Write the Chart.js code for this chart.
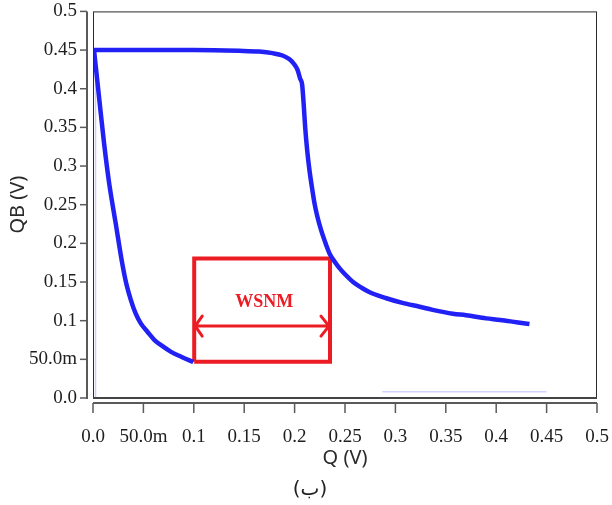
<!DOCTYPE html>
<html>
<head>
<meta charset="utf-8">
<script src="https://cdn.jsdelivr.net/npm/chart.js@4.4.1/dist/chart.umd.min.js"></script>
<style>
  body { margin: 0; background: #fff; }
  #wrap { position: relative; width: 612px; height: 505px; }
  #caption {
    position: absolute; left: 310px; top: 476px;
    transform: translateX(-50%);
    font: 20px "DejaVu Sans", sans-serif; color: #222;
  }
</style>
</head>
<body>
<div id="wrap">
  <canvas id="wsnmChart" width="612" height="505"></canvas>
  <div id="caption">(ب)</div>
</div>
<script>
// butterfly curves of the cell: QB against Q
const leftQ  = [0.001, 0.006, 0.011, 0.016, 0.0225, 0.029, 0.033, 0.0375, 0.0424, 0.0474, 0.054, 0.061, 0.069, 0.077, 0.088, 0.0995];
const leftQB = [0.450, 0.389, 0.329, 0.278, 0.226, 0.174, 0.148, 0.127, 0.109, 0.0965, 0.0857, 0.075, 0.067, 0.060, 0.053, 0.0465];

const rightQ  = [0.0, 0.05, 0.10, 0.145, 0.165, 0.178, 0.188, 0.195, 0.200, 0.203, 0.2055, 0.2075, 0.209, 0.2105, 0.2125, 0.2147, 0.2175, 0.2197, 0.2225, 0.2263, 0.2313, 0.2346, 0.241, 0.2445, 0.250, 0.258, 0.266, 0.274, 0.291, 0.307, 0.324, 0.337, 0.357, 0.370, 0.390, 0.404, 0.420, 0.433];
const rightQB = [0.450, 0.450, 0.450, 0.449, 0.448, 0.446, 0.443, 0.438, 0.431, 0.424, 0.413, 0.405, 0.380, 0.350, 0.320, 0.295, 0.270, 0.252, 0.235, 0.217, 0.198, 0.187, 0.174, 0.168, 0.160, 0.150, 0.143, 0.137, 0.129, 0.123, 0.118, 0.114, 0.109, 0.107, 0.103, 0.101, 0.098, 0.0956];

// faint traces left by the simulator near the axes
const traceVQ = [0.0025, 0.0025];
const traceVQB = [0.45, 0.0];
const traceHQ = [0.287, 0.45];
const traceHQB = [0.008, 0.008];

// WSNM window: corners and the double arrow across it
const boxQ  = [0.1004, 0.1004, 0.2351, 0.2351, 0.1004];
const boxQB = [0.047, 0.1805, 0.1805, 0.047, 0.047];
const arrowQ = [0.1014, 0.2341];
const arrowQB = 0.093;
const wsnmLabel = 'WSNM';
const wsnmLabelAt = [0.170, 0.124];

const tickValues = [0, 0.05, 0.1, 0.15, 0.2, 0.25, 0.3, 0.35, 0.4, 0.45, 0.5];
const tickLabels = ['0.0', '50.0m', '0.1', '0.15', '0.2', '0.25', '0.3', '0.35', '0.4', '0.45', '0.5'];

const pts = (xs, ys) => xs.map((v, i) => ({ x: v, y: Array.isArray(ys) ? ys[i] : ys }));

const BLUE = 'rgb(33,33,245)';
const RED = '#ec1c24';
const serif = '"Liberation Serif", "Times New Roman", serif';
const sans = '"Noto Sans", sans-serif';

const wsnmPlugin = {
  id: 'wsnmPlugin',
  afterDatasetsDraw(chart) {
    const { ctx, scales: { x, y } } = chart;
    const ay = y.getPixelForValue(arrowQB);
    const x1 = x.getPixelForValue(arrowQ[0]);
    const x2 = x.getPixelForValue(arrowQ[1]);
    ctx.save();
    ctx.strokeStyle = RED;
    ctx.lineWidth = 3;
    ctx.lineCap = 'round';
    ctx.beginPath();
    ctx.moveTo(x1, ay); ctx.lineTo(x2, ay);
    ctx.moveTo(x1 + 7, ay - 10); ctx.lineTo(x1, ay); ctx.lineTo(x1 + 7, ay + 10);
    ctx.moveTo(x2 - 8, ay - 10); ctx.lineTo(x2, ay); ctx.lineTo(x2 - 8, ay + 10);
    ctx.stroke();
    ctx.fillStyle = RED;
    ctx.font = 'bold 18px ' + serif;
    ctx.textAlign = 'center';
    ctx.textBaseline = 'middle';
    ctx.fillText(wsnmLabel, x.getPixelForValue(wsnmLabelAt[0]), y.getPixelForValue(wsnmLabelAt[1]));
    ctx.restore();
  },
  afterDraw(chart) {
    const { ctx, chartArea: a, scales: { x, y } } = chart;
    const seg = (x0, y0, x1, y1) => { ctx.beginPath(); ctx.moveTo(x0, y0); ctx.lineTo(x1, y1); ctx.stroke(); };
    ctx.save();
    // plot frame
    ctx.strokeStyle = '#2b2b2b';
    ctx.lineWidth = 1;
    ctx.strokeRect(a.left + 0.5, a.top + 0.5, a.right - a.left - 1, a.bottom - a.top);
    ctx.strokeStyle = '#444';
    ctx.lineWidth = 2;
    seg(a.left, a.bottom, a.right, a.bottom);
    // detached axis lines with tick marks
    ctx.strokeStyle = '#5a5a5a';
    const axY = a.bottom + 5;
    const axX = a.left - 6;
    seg(a.left, axY, a.right, axY);
    seg(axX, a.top, axX, a.bottom + 1);
    ctx.lineWidth = 1.5;
    x.ticks.forEach(t => {
      const px = x.getPixelForValue(t.value);
      seg(px, axY, px, axY + 10);
    });
    y.ticks.forEach(t => {
      const py = y.getPixelForValue(t.value);
      seg(axX, py, axX - 7, py);
    });
    ctx.restore();
  }
};

const setTicks = scale => { scale.ticks = tickValues.map(v => ({ value: v })); };
const tickText = (v, i) => tickLabels[i];
// hidden tick marks only push the labels away from the plot
const hiddenGrid = len => ({ display: true, drawOnChartArea: false, drawTicks: true, tickLength: len, color: 'transparent', tickColor: 'transparent' });

new Chart(document.getElementById('wsnmChart'), {
  type: 'line',
  data: {
    datasets: [
      { data: pts(leftQ, leftQB), borderColor: BLUE, borderWidth: 4.5, order: 0 },
      { data: pts(rightQ, rightQB), borderColor: BLUE, borderWidth: 4.5, order: 0 },
      { data: pts(traceVQ, traceVQB), borderColor: 'rgba(110,110,255,0.35)', borderWidth: 1.5, order: 2 },
      { data: pts(traceHQ, traceHQB), borderColor: 'rgba(110,110,255,0.3)', borderWidth: 1.5, order: 2 },
      { data: pts(boxQ, boxQB), borderColor: RED, borderWidth: 4, cubicInterpolationMode: 'default', tension: 0, order: 1, borderJoinStyle: 'miter' }
    ]
  },
  options: {
    responsive: false,
    animation: false,
    cubicInterpolationMode: 'monotone',
    elements: { point: { radius: 0 }, line: { fill: false, borderCapStyle: 'butt' } },
    layout: { padding: { top: 11, right: 15, left: 0, bottom: 0 } },
    plugins: { legend: { display: false }, tooltip: { enabled: false } },
    scales: {
      x: {
        type: 'linear', min: 0, max: 0.5,
        afterBuildTicks: setTicks,
        afterFit: s => { s.height = 107; },
        grid: hiddenGrid(28),
        border: { display: false },
        ticks: { callback: tickText, maxRotation: 0, autoSkip: false, padding: 0, color: '#1e1e1e', font: { family: serif, size: 19 } },
        title: { display: true, text: 'Q (V)', color: '#2a2a2a', padding: { top: 0, bottom: 35 }, font: { family: sans, size: 20 } }
      },
      y: {
        type: 'linear', min: 0, max: 0.5,
        afterBuildTicks: setTicks,
        afterFit: s => { s.width = 93; },
        grid: hiddenGrid(16),
        border: { display: false },
        ticks: { callback: tickText, autoSkip: false, padding: 0, color: '#1e1e1e', font: { family: serif, size: 19 } },
        title: { display: true, text: 'QB (V)', color: '#2a2a2a', padding: { top: 6, bottom: 0 }, font: { family: sans, size: 20 } }
      }
    }
  },
  plugins: [wsnmPlugin]
});
</script>
</body>
</html>
